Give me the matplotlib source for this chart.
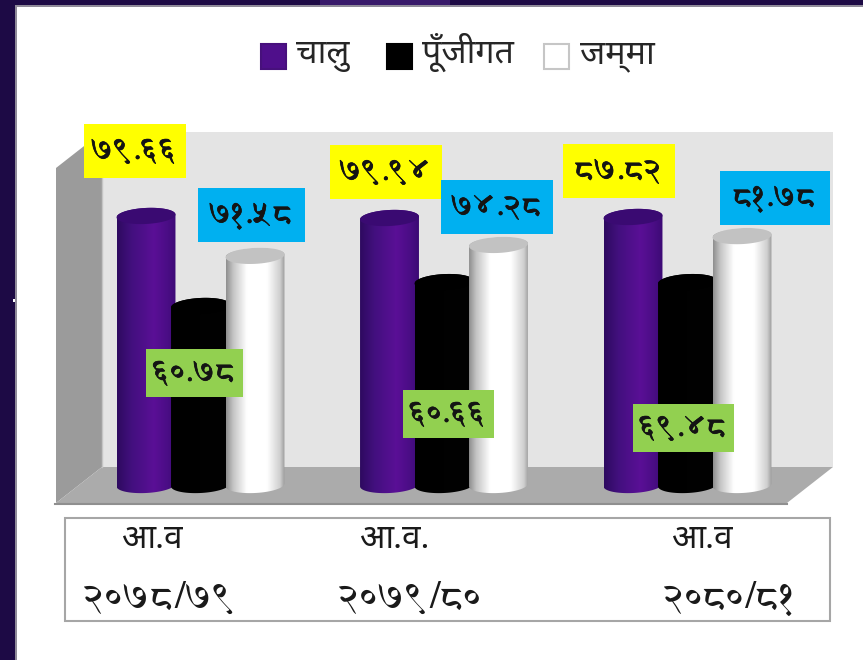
import numpy as np
import matplotlib
matplotlib.use("Agg")
import matplotlib.pyplot as plt
import matplotlib.patheffects as pe
from matplotlib.patches import Rectangle, Polygon
from matplotlib.path import Path
from matplotlib.colors import LinearSegmentedColormap

# Data
series = ["चालु", "पूँजीगत", "जम्मा"]
year_top = ["आ.व", "आ.व.", "आ.व"]
year_bottom = ["२०७८/७९", "२०७९/८०", "२०८०/८१"]

# heights as the cylinders are drawn (the labels are typed on top in the original)
chalu = [78.9, 78.3, 78.6]
punjigat = [52.5, 59.5, 59.5]
jamma = [67.2, 70.4, 73.0]

chalu_labels = ["७९.६६", "७९.९४", "८७.८२"]
punjigat_labels = ["६०.७८", "६०.६६", "६९.४८"]
jamma_labels = ["७१.५८", "७४.२८", "८१.७८"]

W, H = 863, 660
PX_PER_GROUP = 243.5
PX_PER_UNIT = 3.41
ZERO_X, ZERO_Y = 200.5, 485
BAR_OFFSET = 54.5 / PX_PER_GROUP

TITLE_FONT = ["Noto Sans Devanagari", "DejaVu Sans"]
NUM_FONT = ["FreeSerif", "DejaVu Sans"]

fig = plt.figure(figsize=(W / 100, H / 100), dpi=100, facecolor="#1d0a45")

# pixel axes for the panel, walls, boxes and text
bg = fig.add_axes([0, 0, 1, 1], zorder=0)
bg.set_xlim(0, W)
bg.set_ylim(H, 0)
bg.axis("off")

fg = fig.add_axes([0, 0, 1, 1], zorder=2)
fg.set_xlim(0, W)
fg.set_ylim(H, 0)
fg.axis("off")
fg.patch.set_alpha(0)

# value axes for the cylinders
ax = fig.add_axes([0, 0, 1, 1], zorder=1)
ax.axis("off")
ax.patch.set_alpha(0)

# panel
bg.add_patch(Rectangle((320, 0), 130, 5, fc="#38196a", ec="none"))
bg.add_patch(Rectangle((15, 5), W, H, fc="#8f8a99", ec="none"))
bg.add_patch(Rectangle((16.5, 6.5), W, H, fc="white", ec="none"))
bg.add_patch(Rectangle((13, 299), 2, 3, fc="white", ec="none"))

# 3d walls
bg.add_patch(Polygon([(102, 132), (833, 132), (833, 467), (102, 467)], fc="#e4e4e4", ec="none"))
bg.add_patch(Polygon([(56, 168), (102, 132), (102, 467), (56, 503)], fc="#9b9b9b", ec="none"))
bg.add_patch(Polygon([(102, 467), (833, 467), (787, 503), (56, 503)], fc="#ababab", ec="none"))
bg.plot([55, 787], [503.5, 503.5], color="#8f8f8f", lw=1.5)
bg.plot([102, 102], [132, 467], color="#c4c4c4", lw=1)

purple = LinearSegmentedColormap.from_list(
    "purple", [(0, "#2e0a60"), (0.25, "#43107f"), (0.62, "#5a0f96"), (0.85, "#4a0d85"), (1, "#3c0a74")])
black = LinearSegmentedColormap.from_list("black", [(0, "#000000"), (1, "#020202")])
white = LinearSegmentedColormap.from_list(
    "white", [(0, "#8f8f8f"), (0.12, "#c4c4c4"), (0.35, "#ffffff"), (0.7, "#ffffff"), (0.92, "#cfcfcf"), (1, "#9c9c9c")])

TILT = np.deg2rad(-3)
HALF_W = 29.5
CAP_H = 8.0


def ellipse_pts(cx, cy, t):
    # tilted ellipse in value units, sizes given in pixels
    dx = HALF_W * np.cos(t) * np.cos(TILT) - CAP_H * np.sin(t) * np.sin(TILT)
    dy = HALF_W * np.cos(t) * np.sin(TILT) + CAP_H * np.sin(t) * np.cos(TILT)
    return cx + dx / PX_PER_GROUP, cy - dy / PX_PER_UNIT


def cylinder(x, height, cmap, cap, z):
    # side: bottom arc left to right, then back over the top of the cap
    xb, yb = ellipse_pts(x, 0, np.linspace(np.pi, 0, 40))
    xt, yt = ellipse_pts(x, height, np.linspace(2 * np.pi, np.pi, 40))
    body_pts = np.column_stack([np.r_[xb, xt], np.r_[yb, yt]])
    half = HALF_W / PX_PER_GROUP
    im = ax.imshow(np.linspace(0, 1, 128).reshape(1, -1), cmap=cmap, aspect="auto",
                   extent=(x - half, x + half, -4, height + 4), zorder=z, vmin=0, vmax=1,
                   interpolation="bilinear")
    im.set_clip_path(Path(body_pts, closed=False), transform=ax.transData)
    xc, yc = ellipse_pts(x, height, np.linspace(0, 2 * np.pi, 80))
    ax.fill(xc, yc, color=cap, lw=0, zorder=z + 0.5)


xs = np.arange(len(year_top))
for i, x in enumerate(xs):
    cylinder(x - BAR_OFFSET, chalu[i], purple, "#3a0a72", 3)
    cylinder(x, punjigat[i], black, "#000000", 4)
    cylinder(x + BAR_OFFSET, jamma[i], white, "#c2c2c2", 5)

ax.set_xlim(-ZERO_X / PX_PER_GROUP, (W - ZERO_X) / PX_PER_GROUP)
ax.set_ylim((ZERO_Y - H) / PX_PER_UNIT, ZERO_Y / PX_PER_UNIT)

# legend
legend_x = [261, 387, 544]
legend_text_x = [296, 422, 580]
legend_fc = ["#4f0f8b", "#000000", "#ffffff"]
legend_ec = ["#47107c", "#000000", "#c6c6c6"]
for name, bx, tx, fc, ec in zip(series, legend_x, legend_text_x, legend_fc, legend_ec):
    fg.add_patch(Rectangle((bx, 44), 25, 25, fc=fc, ec=ec, lw=1.5))
    fg.text(tx, 63, name, family=TITLE_FONT, fontsize=24.5, color="#262626", ha="left", va="baseline")

# value boxes, pixel rectangles as placed by hand in the original
chalu_box = [(84, 124, 102, 54), (330, 145, 112, 54), (563, 144, 112, 54)]
punjigat_box = [(146, 349, 97, 48), (403, 390, 91, 48), (633, 404, 101, 48)]
jamma_box = [(198, 188, 107, 54), (441, 180, 112, 54), (720, 171, 110, 54)]
stroke = [pe.withStroke(linewidth=0.5, foreground="#141414")]
for labels, boxes, color in [(chalu_labels, chalu_box, "#ffff00"),
                             (punjigat_labels, punjigat_box, "#92d050"),
                             (jamma_labels, jamma_box, "#00b0f0")]:
    for lab, (bx, by, bw, bh) in zip(labels, boxes):
        fg.add_patch(Rectangle((bx, by), bw, bh, fc=color, ec="none"))
        fg.text(bx + bw / 2, by + bh / 2, lab, family=NUM_FONT, fontsize=23,
                color="#141414", ha="center", va="center", path_effects=stroke)

# category box
fg.add_patch(Rectangle((65, 518), 765, 103, fc="white", ec="#a6a6a6", lw=1.5))
top_x = [152, 394, 702]
bottom_x = [160, 411, 730]
for a, b, tx, bx in zip(year_top, year_bottom, top_x, bottom_x):
    fg.text(tx, 548, a, family=TITLE_FONT, fontsize=24, color="#1a1a1a", ha="center", va="baseline")
    fg.text(bx, 608, b, family=NUM_FONT, fontsize=28, color="#1a1a1a", ha="center", va="baseline")

fig.savefig("out.png", dpi=100, facecolor=fig.get_facecolor())
